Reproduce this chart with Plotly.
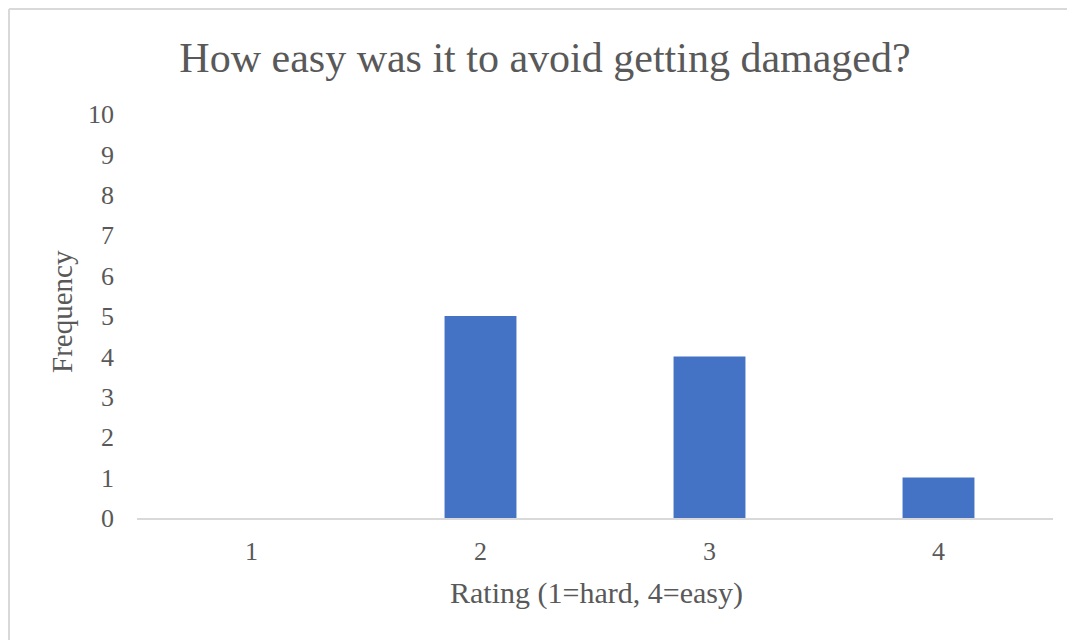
import plotly.graph_objects as go

categories = ["1", "2", "3", "4"]
frequency = [0, 5, 4, 1]
y_ticks = list(range(0, 11))

title_text = "How easy was it to avoid getting damaged?"
x_title = "Rating (1=hard, 4=easy)"
y_title = "Frequency"

FONT = "Liberation Serif, Times New Roman, serif"
TEXT = "#595959"

fig = go.Figure(
    go.Bar(
        x=categories,
        y=frequency,
        marker=dict(color="#4472C4", line=dict(width=0)),
        width=0.314,
    )
)

# page renders the figure offset by ~8px; positions below are in page coords
OFF = 8
W, H = 1075, 640
L, R, T, B = 137 - OFF, 22 + OFF, 114 - OFF, 122 + OFF
pw, ph = W - L - R, H - T - B

def px_x(x):
    return (x - OFF - L) / pw

def px_y(y):
    return (H - B - (y - OFF)) / ph

fig.update_layout(
    width=W,
    height=H,
    margin=dict(l=L, r=R, t=T, b=B, pad=0),
    paper_bgcolor="white",
    plot_bgcolor="white",
    showlegend=False,
    font=dict(family=FONT, color=TEXT),
    title=dict(
        text=title_text,
        x=px_x(545), xref="paper", xanchor="center",
        y=1 - (57 - OFF) / H, yref="container", yanchor="middle",
        font=dict(size=42, family=FONT, color=TEXT),
    ),
    xaxis=dict(
        type="category",
        showgrid=False,
        showline=True,
        linecolor="#D9D9D9",
        linewidth=2,
        ticks="",
        tickfont=dict(size=26, family=FONT, color=TEXT),
        ticklabelstandoff=9,
        range=[-0.5, 3.5],
    ),
    yaxis=dict(
        range=[0, 10],
        tickvals=y_ticks,
        showgrid=False,
        zeroline=False,
        showline=False,
        ticks="",
        tickfont=dict(size=26, family=FONT, color=TEXT),
        ticklabelstandoff=22,
    ),
    annotations=[
        dict(text=x_title, xref="paper", yref="paper",
             x=px_x(596), y=px_y(593), xanchor="center", yanchor="middle",
             showarrow=False, font=dict(size=30, family=FONT, color=TEXT)),
        dict(text=y_title, xref="paper", yref="paper",
             x=px_x(62), y=px_y(312), xanchor="center", yanchor="middle",
             textangle=-90, showarrow=False,
             font=dict(size=29, family=FONT, color=TEXT)),
    ],
    shapes=[
        dict(type="line", xref="paper", yref="paper",
             x0=px_x(9), x1=px_x(1090), y0=px_y(9), y1=px_y(9),
             line=dict(color="#D9D9D9", width=2)),
        dict(type="line", xref="paper", yref="paper",
             x0=px_x(9), x1=px_x(9), y0=px_y(9), y1=px_y(660),
             line=dict(color="#D9D9D9", width=2)),
    ],
)

fig.write_html("out.html")
